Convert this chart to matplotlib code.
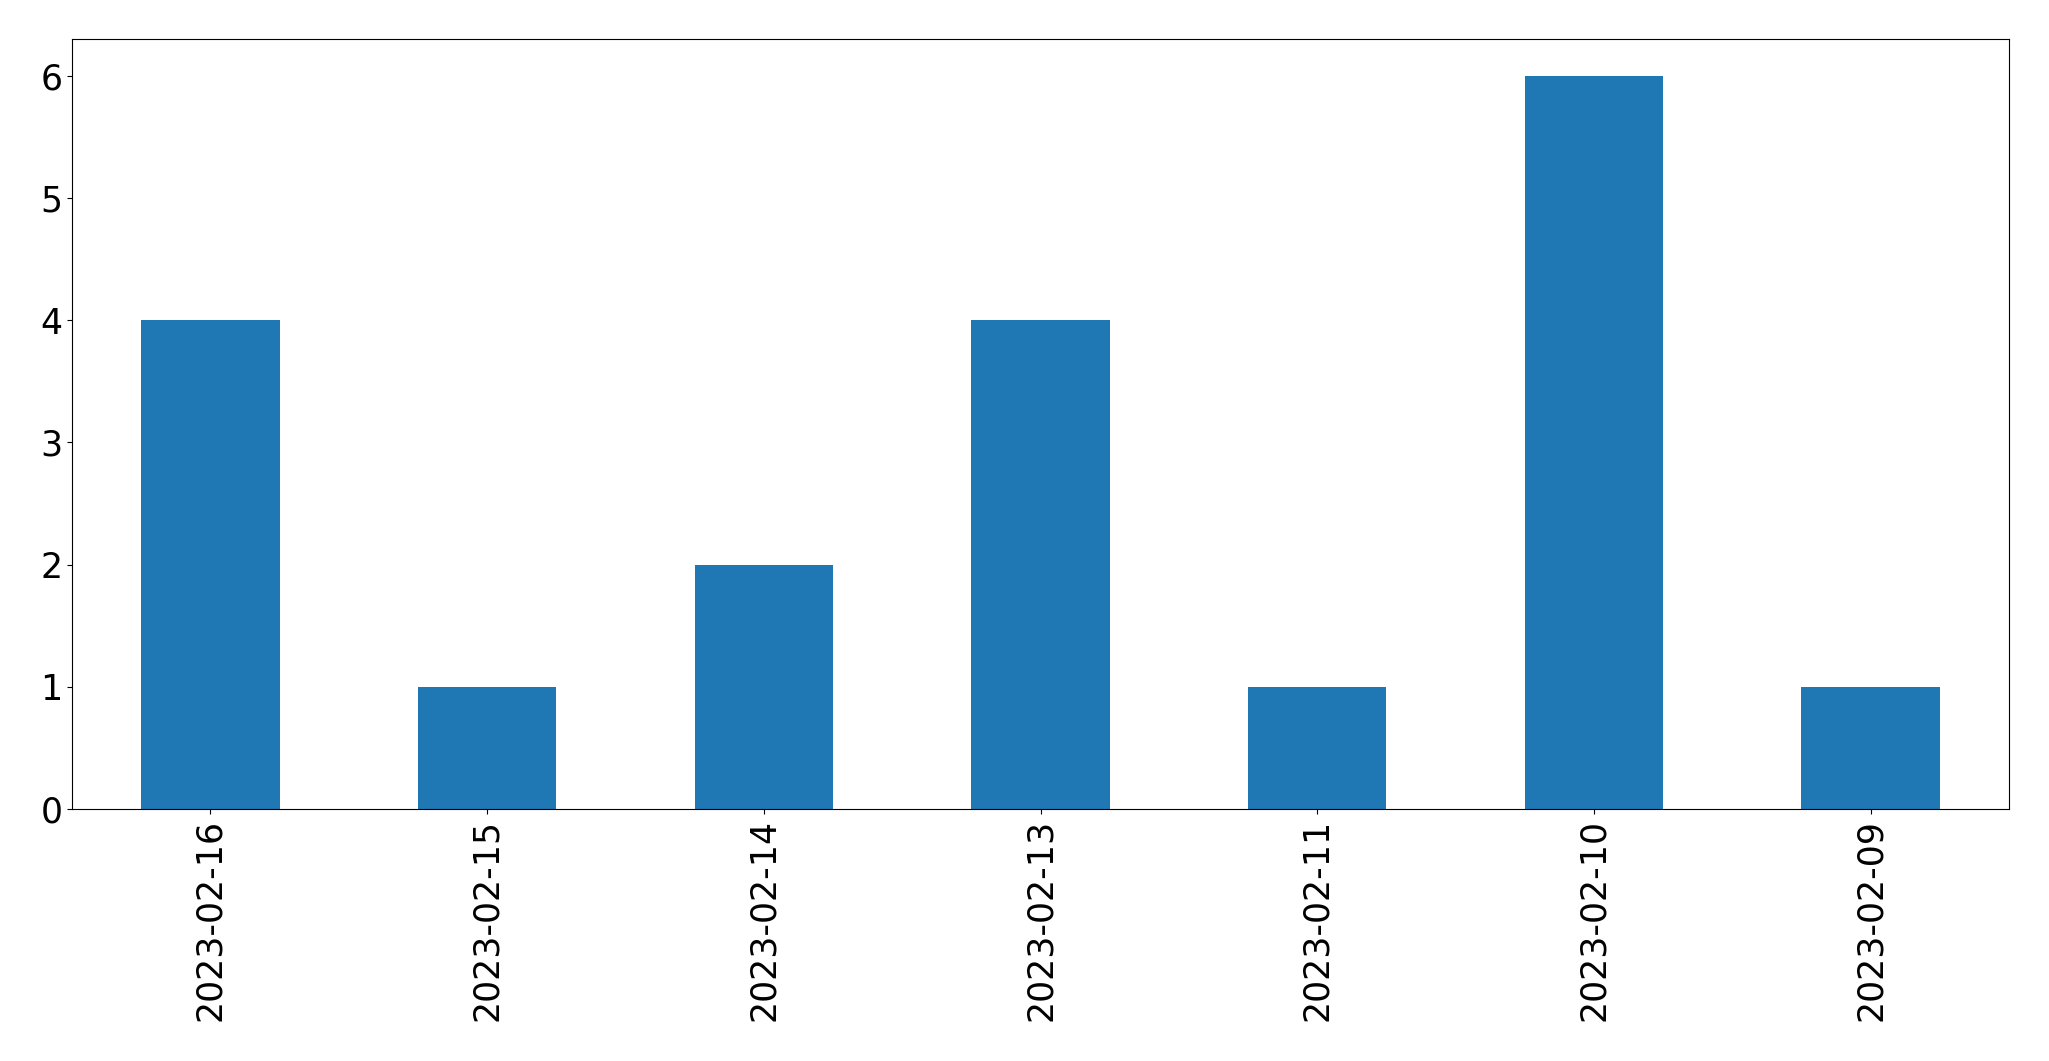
import matplotlib
matplotlib.use("Agg")
import matplotlib.pyplot as plt
import pandas as pd

dates = ["2023-02-16", "2023-02-15", "2023-02-14", "2023-02-13",
         "2023-02-11", "2023-02-10", "2023-02-09"]
counts = [4, 1, 2, 4, 1, 6, 1]

s = pd.Series(counts, index=dates)

fig = plt.figure(figsize=(20.49, 10.61), dpi=100)
ax = fig.add_axes([72/2049, 1 - 809/1061, (2009 - 72)/2049, (809 - 39)/1061])
s.plot(kind="bar", ax=ax, color="#1f77b4", fontsize=25)
ax.tick_params(axis="both", labelsize=25)

fig.savefig("out.png", dpi=100)
